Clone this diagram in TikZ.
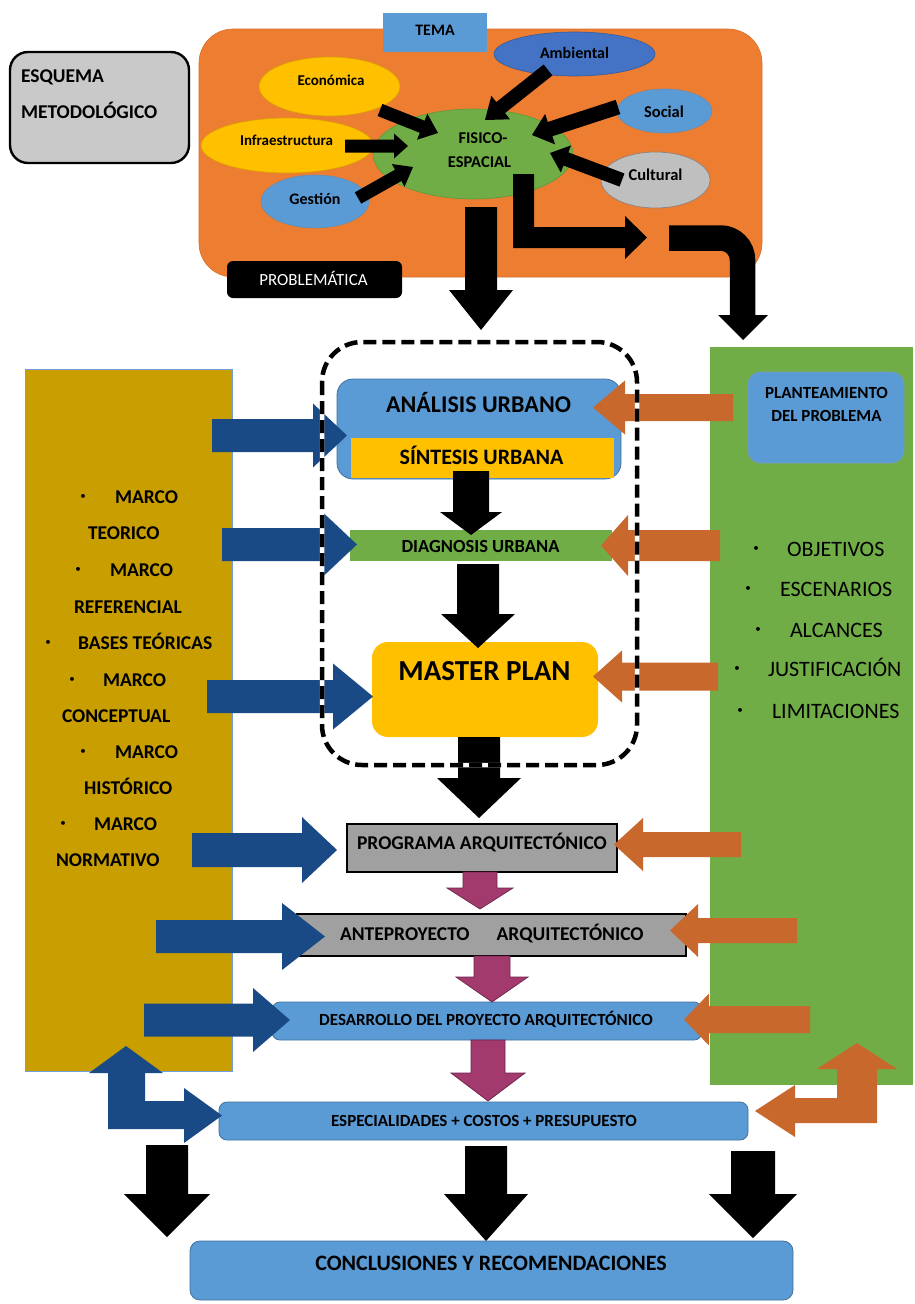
\documentclass[tikz,border=0pt]{standalone}
\usepackage{fontspec}
\setmainfont{Carlito}
\usetikzlibrary{calc,shapes.geometric}
\definecolor{orangeA}{HTML}{ED7D31}
\definecolor{orangeEdge}{HTML}{D9702A}
\definecolor{blueA}{HTML}{5B9BD5}
\definecolor{blueB}{HTML}{4472C4}
\definecolor{blueEdge}{HTML}{41719C}
\definecolor{yellowA}{HTML}{FFC000}
\definecolor{greenA}{HTML}{70AD47}
\definecolor{greenEdge}{HTML}{5E9A3A}
\definecolor{grayA}{HTML}{BFBFBF}
\definecolor{grayB}{HTML}{C9C9C9}
\definecolor{grayC}{HTML}{A0A0A0}
\definecolor{gold}{RGB}{200,158,0}
\definecolor{goldEdge}{RGB}{111,159,216}
\definecolor{navy}{RGB}{26,74,133}
\definecolor{rust}{RGB}{200,104,45}
\definecolor{mag}{RGB}{163,58,110}
\definecolor{magdark}{RGB}{110,35,75}
\newcommand{\fs}[1]{\fontsize{#1}{#1}\selectfont}
% block arrow: style, tail, tip, shaft half width, head half width, head length
\newcommand{\blockarrow}[6]{%
  \coordinate (bab) at ($(#3)!#6pt!(#2)$);
  \path[#1] ($(#2)!#4pt!90:(#3)$) -- ($(bab)!#4pt!90:(#3)$) -- ($(bab)!#5pt!90:(#3)$) -- (#3)
    -- ($(bab)!#5pt!-90:(#3)$) -- ($(bab)!#4pt!-90:(#3)$) -- ($(#2)!#4pt!-90:(#3)$) -- cycle;}
\begin{document}
\begin{tikzpicture}[x=1pt,y=-1pt,
  every node/.style={inner sep=0pt,outer sep=0pt},
  txtb/.style={font=\fs{#1}\bfseries, anchor=base, text=black},
  txtr/.style={font=\fs{#1}, anchor=base, text=black},
  bul/.style={font=\fs{11}, text=black},
  bluebox/.style={fill=blueA, draw=blueEdge, line width=0.8pt, rounded corners=8pt},
  graybox/.style={fill=grayC, draw=black, line width=2.2pt},
  ell/.style={ellipse, line width=0.6pt},
  navyarrow/.style={fill=navy},
  rustarrow/.style={fill=rust},
  blackarrow/.style={fill=black},
  magarrow/.style={fill=mag, draw=magdark, line width=0.7pt}]
\useasboundingbox (0,0) rectangle (915,1304);
\fill[white] (0,0) rectangle (915,1304);

% ---------- title box
\node[fill=grayB, draw=black, line width=2.4pt, rounded corners=18pt, minimum width=179pt, minimum height=111pt] (esq) at (99.5,107.5) {};
\node[txtb=19.5, anchor=base west] (esq1) at (21,82.2) {ESQUEMA};
\node[txtb=19.5, anchor=base west] (esq2) at (21,118.2) {METODOLÓGICO};

% ---------- problem block
\node[fill=orangeA, draw=orangeEdge, line width=0.6pt, rounded corners=34pt, minimum width=563pt, minimum height=248pt] (orange) at (480.5,153) {};
\node[fill=blueA, minimum width=104pt, minimum height=39pt] (tema) at (435,32.5) {};
\node[txtb=16] (temat) at (435,35.1) {TEMA};

\node[ell, fill=yellowA, draw=yellowA!85!black, minimum width=141pt, minimum height=59pt] (eco) at (329.5,86.5) {};
\node[ell, fill=yellowA, draw=yellowA!85!black, minimum width=172pt, minimum height=55pt] (infra) at (287,145.5) {};
\node[ell, fill=blueA, draw=blueEdge!80, minimum width=108pt, minimum height=53pt] (gest) at (315,201.5) {};
\node[ell, fill=greenA, draw=greenEdge, minimum width=200pt, minimum height=90pt] (fis) at (473,154) {};
\node[ell, fill=blueB, draw=blueB!80!black, minimum width=161pt, minimum height=44pt] (amb) at (574.5,54) {};
\node[ell, fill=blueA, draw=blueEdge!80, minimum width=95pt, minimum height=44pt] (soc) at (664.5,111) {};
\node[ell, fill=grayA, draw=gray, minimum width=109pt, minimum height=56pt] (cul) at (655.5,180) {};

\node[txtb=15] (ecot) at (331,85.5) {Económica};
\node[txtb=15] (infrat) at (286.5,145.5) {Infraestructura};
\node[txtb=16] (gestt) at (315,204.8) {Gestión};
\node[txtb=16] (ambt) at (574.5,58.8) {Ambiental};
\node[txtb=16.5] (soct) at (664,117.5) {Social};
\node[txtb=16.5] (cult) at (655.5,180.5) {Cultural};
\node[txtb=16.5] (fis1) at (483,143.3) {FISICO-};
\node[txtb=16.5] (fis2) at (479.5,167.3) {ESPACIAL};

\coordinate (ecoA) at (380,110);   \coordinate (ecoB) at (438,133);
\coordinate (infA) at (345,146);   \coordinate (infB) at (408,146);
\coordinate (gesA) at (358,198);   \coordinate (gesB) at (413,167);
\coordinate (ambA) at (548,70);    \coordinate (ambB) at (485,120);
\coordinate (socA) at (618,107);   \coordinate (socB) at (532,135);
\coordinate (culA) at (622,180);   \coordinate (culB) at (550,153);
\blockarrow{blackarrow}{ecoA}{ecoB}{6.5}{14}{17}
\blockarrow{blackarrow}{infA}{infB}{6.5}{12.5}{14}
\blockarrow{blackarrow}{gesA}{gesB}{6.5}{13}{17}
\blockarrow{blackarrow}{ambA}{ambB}{7}{15}{20}
\blockarrow{blackarrow}{socA}{socB}{7.5}{16}{19}
\blockarrow{blackarrow}{culA}{culB}{7}{14.5}{17}

\node[fill=black, rounded corners=6pt, minimum width=175pt, minimum height=37pt] (prob) at (314.5,279.5) {};
\node[txtr=17, text=white] (probt) at (313.5,285.4) {PROBLEMÁTICA};

% main down arrow, L arrow, curved arrow
\coordinate (downA) at (481,207); \coordinate (downB) at (481,330);
\blockarrow{blackarrow}{downA}{downB}{16}{32}{40}
\fill[black] (513,174) -- (534,174) -- (534,227) -- (625,227) -- (625,216) -- (647,237.5)
  -- (625,259) -- (625,248) -- (513,248) -- cycle;
\coordinate (curA) at (669,238); \coordinate (curC) at (742.5,238); \coordinate (curD) at (742.5,316);
\draw[black, line width=25.5pt, rounded corners=22pt] (curA) -- (curC) -- (curD);
\fill[black] (718,315) -- (768,315) -- (743,340) -- cycle;

% ---------- side columns
\node[fill=gold, draw=goldEdge, line width=0.8pt, minimum width=207pt, minimum height=702pt] (leftcol) at (128.5,720) {};
\node[fill=greenA, minimum width=203pt, minimum height=738pt] (rightcol) at (811.5,716) {};

% left list
\node[bul] at (83,497) {•};  \node[txtb=19.5, anchor=base west] at (115,503) {MARCO};
\node[txtb=19.5, anchor=base west] at (88,539) {TEORICO};
\node[bul] at (78,570) {•};  \node[txtb=19.5, anchor=base west] at (110,576) {MARCO};
\node[txtb=19.5, anchor=base west] at (74,613) {REFERENCIAL};
\node[bul] at (48,643) {•};  \node[txtb=19.5, anchor=base west] at (78,649) {BASES TEÓRICAS};
\node[bul] at (72,680) {•};  \node[txtb=19.5, anchor=base west] at (103,686) {MARCO};
\node[txtb=19.5, anchor=base west] at (62,722) {CONCEPTUAL};
\node[bul] at (83,752) {•};  \node[txtb=19.5, anchor=base west] at (115,758) {MARCO};
\node[txtb=19.5, anchor=base west] at (84,794) {HISTÓRICO};
\node[bul] at (63,824) {•};  \node[txtb=19.5, anchor=base west] at (94,830) {MARCO};
\node[txtb=19.5, anchor=base west] at (56,866) {NORMATIVO};

% right list
\node[fill=blueA, draw=blueEdge!70, line width=0.6pt, rounded corners=12pt, minimum width=156pt, minimum height=91pt] (plan) at (826,417.5) {};
\node[txtb=17] at (826.5,398.4) {PLANTEAMIENTO};
\node[txtb=17] at (826.5,421.4) {DEL PROBLEMA};
\node[bul] at (756,549) {•};  \node[txtr=22, anchor=base west] at (787,556.3) {OBJETIVOS};
\node[bul] at (748,589) {•};  \node[txtr=22, anchor=base west] at (780,596.3) {ESCENARIOS};
\node[bul] at (758,630) {•};  \node[txtr=22, anchor=base west] at (790,637.3) {ALCANCES};
\node[bul] at (737,669) {•};  \node[txtr=22, anchor=base west] at (768,676.3) {JUSTIFICACIÓN};
\node[bul] at (740,711) {•};  \node[txtr=22, anchor=base west] at (772,718.3) {LIMITACIONES};

% ---------- central boxes
\node[fill=blueA, draw=blueEdge, line width=0.8pt, rounded corners=16pt, minimum width=284pt, minimum height=100pt] (analisis) at (479,429) {};
\node[txtb=24] (analisist) at (478.5,412.7) {ANÁLISIS URBANO};
\node[fill=yellowA, minimum width=263pt, minimum height=40pt] (sintesis) at (482.5,458) {};
\node[txtb=22] (sintesist) at (481.5,464) {SÍNTESIS URBANA};
\node[fill=greenA, minimum width=262pt, minimum height=31pt] (diag) at (481,545.5) {};
\node[txtb=18.5] (diagt) at (480.5,552) {DIAGNOSIS URBANA};
\node[fill=yellowA, rounded corners=16pt, minimum width=226pt, minimum height=95pt] (master) at (485,689.5) {};
\node[txtb=29] (mastert) at (484.5,680.3) {MASTER PLAN};
\node[graybox, minimum width=270pt, minimum height=48pt] (prog) at (482,848) {};
\node[txtb=19.5] (progt) at (482,849.2) {PROGRAMA ARQUITECTÓNICO};
\node[graybox, minimum width=389pt, minimum height=42pt] (ante) at (491.5,935) {};
\node[txtb=19.5, anchor=base west] (antet) at (340,940.2) {ANTEPROYECTO\hspace{27pt}ARQUITECTÓNICO};
\node[bluebox, minimum width=430pt, minimum height=38pt] (desa) at (487,1021) {};
\node[txtb=17] (desat) at (486,1025.4) {DESARROLLO DEL PROYECTO ARQUITECTÓNICO};
\node[bluebox, minimum width=529pt, minimum height=38pt] (espe) at (483.5,1121) {};
\node[txtb=17] (espet) at (484,1126.4) {ESPECIALIDADES + COSTOS + PRESUPUESTO};
\node[bluebox, rounded corners=10pt, minimum width=603pt, minimum height=59pt] (concl) at (491.5,1270.5) {};
\node[txtb=22] (conclt) at (491,1270) {CONCLUSIONES Y RECOMENDACIONES};

% ---------- navy arrows from the left column
\coordinate (nA1) at (212,435.5);  \coordinate (nB1) at (347,435.5);
\coordinate (nA2) at (222,544.5);  \coordinate (nB2) at (357,544.5);
\coordinate (nA3) at (207,696.5);  \coordinate (nB3) at (373,696.5);
\coordinate (nA4) at (192,850);    \coordinate (nB4) at (337,850);
\coordinate (nA5) at (156,936.5);  \coordinate (nB5) at (325,936.5);
\coordinate (nA6) at (144,1020);   \coordinate (nB6) at (290,1020);
\blockarrow{navyarrow}{nA1}{nB1}{16.5}{32}{34}
\blockarrow{navyarrow}{nA2}{nB2}{16.5}{32}{34}
\blockarrow{navyarrow}{nA3}{nB3}{16.5}{33}{40}
\blockarrow{navyarrow}{nA4}{nB4}{17}{33}{35}
\blockarrow{navyarrow}{nA5}{nB5}{16.5}{33.5}{43}
\blockarrow{navyarrow}{nA6}{nB6}{16.5}{32}{37}
\fill[navy] (126,1046) -- (163,1073) -- (145,1073) -- (145,1101) -- (184,1101) -- (184,1088)
  -- (222,1115.5) -- (184,1143) -- (184,1129) -- (108,1129) -- (108,1073) -- (89,1073) -- cycle;

% ---------- rust arrows from the right column
\coordinate (rA1) at (733,407.5);  \coordinate (rB1) at (593,407.5);
\coordinate (rA2) at (720,545.5);  \coordinate (rB2) at (601,545.5);
\coordinate (rA3) at (718,676.5);  \coordinate (rB3) at (593,676.5);
\coordinate (rA4) at (741,844.5);  \coordinate (rB4) at (614,844.5);
\coordinate (rA5) at (797,930.5);  \coordinate (rB5) at (670,930.5);
\coordinate (rA6) at (810,1019.5); \coordinate (rB6) at (684,1019.5);
\blockarrow{rustarrow}{rA1}{rB1}{13.5}{27}{32}
\blockarrow{rustarrow}{rA2}{rB2}{15.5}{30.5}{27}
\blockarrow{rustarrow}{rA3}{rB3}{14}{26}{29}
\blockarrow{rustarrow}{rA4}{rB4}{12.5}{26.5}{29}
\blockarrow{rustarrow}{rA5}{rB5}{12.5}{26.5}{28}
\blockarrow{rustarrow}{rA6}{rB6}{13.5}{26}{25}
\fill[rust] (857,1043) -- (897,1069) -- (877,1069) -- (877,1123) -- (795,1123) -- (795,1137)
  -- (755,1111) -- (795,1085) -- (795,1098) -- (837,1098) -- (837,1069) -- (817,1069) -- cycle;

% ---------- vertical arrows in the centre
\coordinate (vA1) at (471,471);  \coordinate (vB1) at (471,535);
\coordinate (vA2) at (478,564);  \coordinate (vB2) at (478,648);
\coordinate (vA3) at (479,737);  \coordinate (vB3) at (479,818);
\blockarrow{blackarrow}{vA1}{vB1}{18}{31}{23}
\blockarrow{blackarrow}{vA2}{vB2}{21}{37}{34}
\blockarrow{blackarrow}{vA3}{vB3}{21}{42}{40}
\coordinate (mA1) at (480,872);  \coordinate (mB1) at (480,909);
\coordinate (mA2) at (492,956);  \coordinate (mB2) at (492,1002);
\coordinate (mA3) at (488,1040); \coordinate (mB3) at (488,1101);
\blockarrow{magarrow}{mA1}{mB1}{17}{33}{21}
\blockarrow{magarrow}{mA2}{mB2}{18}{36}{25}
\blockarrow{magarrow}{mA3}{mB3}{17}{37}{28}

% ---------- dashed frame
\draw[white, line width=4.5pt, rounded corners=40pt] (322,342) rectangle (637,765);
\draw[black, line width=4.5pt, dash pattern=on 13pt off 6pt, rounded corners=40pt] (322,342) rectangle (637,765);

% ---------- bottom arrows
\coordinate (bA1) at (167,1145); \coordinate (bB1) at (167,1237);
\coordinate (bA2) at (486,1146); \coordinate (bB2) at (486,1241);
\coordinate (bA3) at (753,1151); \coordinate (bB3) at (753,1238);
\blockarrow{blackarrow}{bA1}{bB1}{21}{43}{43}
\blockarrow{blackarrow}{bA2}{bB2}{21}{42}{47}
\blockarrow{blackarrow}{bA3}{bB3}{22}{44}{44}
\end{tikzpicture}
\end{document}
